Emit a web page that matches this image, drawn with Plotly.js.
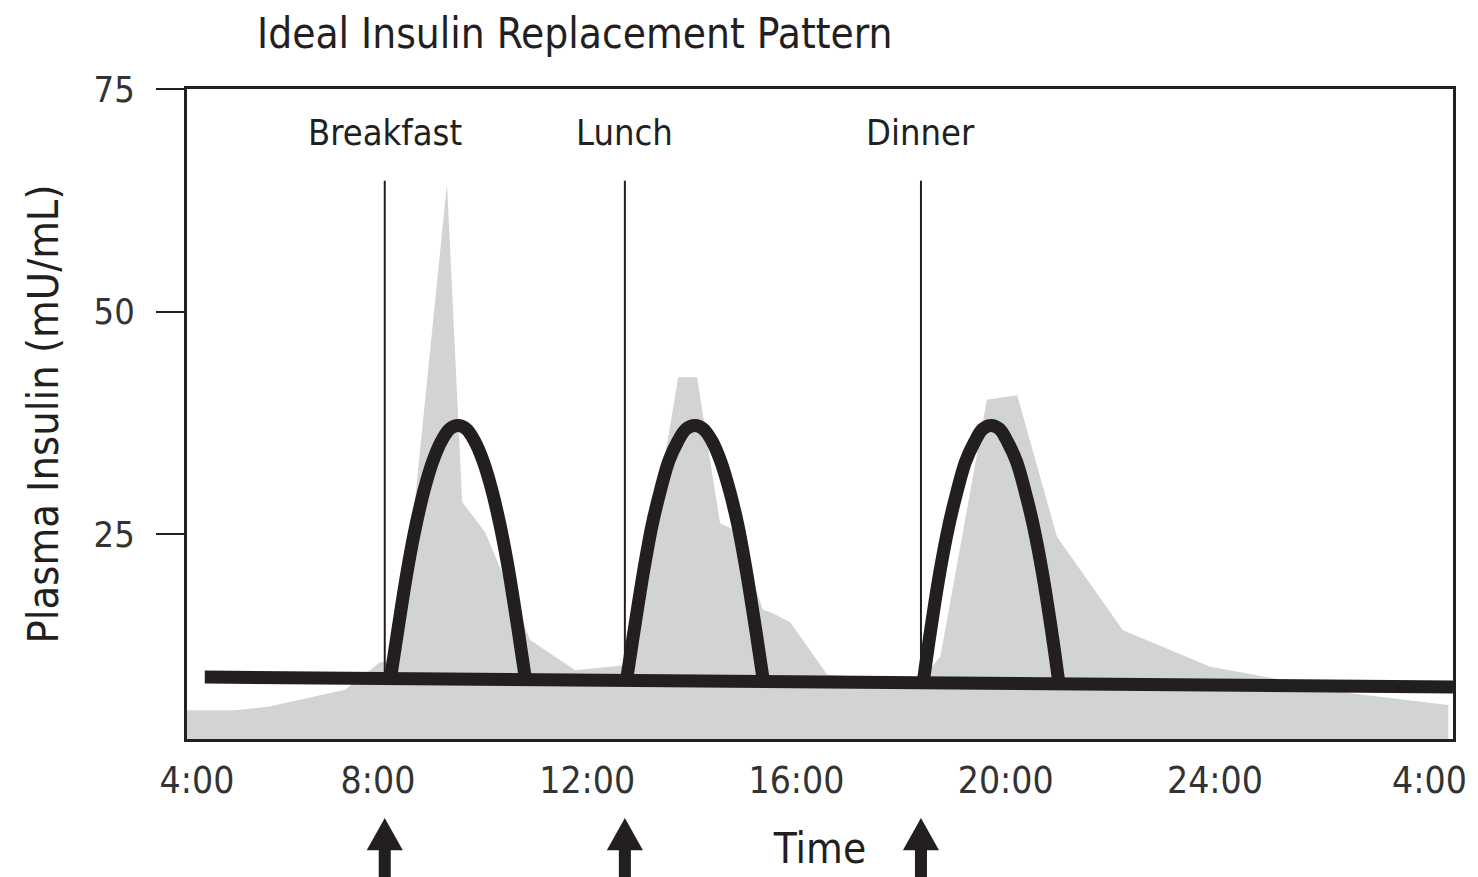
<!DOCTYPE html>
<html>
<head>
<meta charset="utf-8">
<script src="https://cdn.plot.ly/plotly-3.0.1.min.js"></script>
<style>html,body{margin:0;padding:0;background:#fff;}#chart{width:1478px;height:877px;}</style>
</head>
<body>
<div id="chart"></div>
<script>
// ---- Data (hours of day, 4:00 .. 28:00 = next day 4:00; plasma insulin mU/mL) ----
const mealNames = ["Breakfast", "Lunch", "Dinner"];
const mealTimes = [8.13, 12.72, 18.38];
const mealLineTop = 64.7;
const mealLineBottom = 8.8;

// Physiological (gray area) insulin profile
const physX = [4.35, 5.27, 5.90, 7.37, 8.04, 8.40, 9.32, 9.61, 10.05, 10.91, 11.77, 12.72, 12.82, 13.74, 14.10, 14.54, 14.83, 15.36, 15.55, 15.88, 16.59, 18.38, 18.75, 19.64, 20.22, 20.98, 22.24, 23.91, 25.11, 26.59, 28.46];
const physY = [5.2, 5.2, 5.6, 7.5, 10.6, 10.8, 64.4, 28.6, 25.2, 13.1, 9.7, 10.3, 10.3, 42.6, 42.6, 26.2, 25.4, 16.5, 16.1, 15.1, 9.2, 8.6, 11.2, 40.1, 40.6, 24.7, 14.2, 10.1, 8.8, 7.1, 5.8];

// Basal insulin line
const basalX = [4.69, 28.55];
const basalY = [8.93, 7.81];

// Bolus insulin arcs
const breakfastArcX = [8.24, 8.38, 8.57, 8.73, 8.89, 9.05, 9.21, 9.37, 9.53, 9.69, 9.85, 10.01, 10.17, 10.33, 10.49, 10.68, 10.82];
const breakfastArcY = [8.8, 14.2, 21.2, 26.1, 30.1, 33.2, 35.4, 36.8, 37.2, 36.8, 35.4, 33.2, 30.1, 26.1, 21.2, 14.2, 8.7];
const lunchArcX = [12.75, 12.89, 13.08, 13.24, 13.40, 13.56, 13.73, 13.89, 14.06, 14.22, 14.39, 14.55, 14.72, 14.88, 15.04, 15.23, 15.37];
const lunchArcY = [8.5, 13.9, 20.9, 26.0, 29.9, 33.2, 35.4, 36.8, 37.2, 36.8, 35.4, 33.2, 29.9, 26.0, 20.9, 13.9, 8.4];
const dinnerArcX = [18.42, 18.55, 18.74, 18.91, 19.07, 19.23, 19.40, 19.56, 19.72, 19.88, 20.04, 20.21, 20.37, 20.53, 20.70, 20.89, 21.02];
const dinnerArcY = [8.2, 13.6, 20.7, 25.9, 29.8, 33.1, 35.3, 36.8, 37.2, 36.8, 35.3, 33.1, 29.8, 25.9, 20.7, 13.6, 8.1];

// Axis ticks
const xTickVals = [4.54, 8, 12, 16, 20, 24, 28.1];
const xTickText = ["4:00", "8:00", "12:00", "16:00", "20:00", "24:00", "4:00"];
const yTickVals = [25, 50, 75];

// ---- Styles ----
const ink = "#231f20";
const grayFill = "#d1d3d4";
const FONT = '"Liberation Sans Narrow", "Arial Narrow", "DejaVu Sans Condensed", "Liberation Sans", sans-serif';

const traces = [];
traces.push({
  x: physX, y: physY, type: "scatter", mode: "lines",
  fill: "tozeroy", fillcolor: grayFill, line: {width: 0, color: grayFill},
  hoverinfo: "skip"
});
mealTimes.forEach(t => {
  traces.push({
    x: [t, t], y: [mealLineBottom, mealLineTop], type: "scatter", mode: "lines",
    line: {color: ink, width: 2}, hoverinfo: "skip"
  });
});
[[breakfastArcX, breakfastArcY], [lunchArcX, lunchArcY], [dinnerArcX, dinnerArcY]].forEach(([ax, ay]) => {
  traces.push({
    x: ax, y: ay, type: "scatter", mode: "lines",
    line: {color: ink, width: 13, shape: "spline", smoothing: 1.0}, hoverinfo: "skip"
  });
});
traces.push({
  x: basalX, y: basalY, type: "scatter", mode: "lines",
  line: {color: ink, width: 13}, hoverinfo: "skip"
});

const annotations = mealNames.map((name, i) => ({
  x: mealTimes[i], y: 70.1, xref: "x", yref: "y",
  text: name, showarrow: false, xanchor: "center", yanchor: "middle",
  font: {family: FONT, size: 36, color: ink}
}));

// Up arrows beneath meal times
const tipY = -0.1215, headY = -0.171, baseY = -0.26, headHalf = 0.345, shaftHalf = 0.115;
const shapes = mealTimes.map(t => ({
  type: "path", xref: "x", yref: "paper",
  path: `M ${t},${tipY} L ${t + headHalf},${headY} L ${t + shaftHalf},${headY} L ${t + shaftHalf},${baseY} L ${t - shaftHalf},${baseY} L ${t - shaftHalf},${headY} L ${t - headHalf},${headY} Z`,
  fillcolor: ink, line: {width: 0}
}));

const layout = {
  width: 1478, height: 877,
  margin: {l: 187, r: 25, t: 89, b: 138, pad: 0},
  paper_bgcolor: "#ffffff", plot_bgcolor: "#ffffff",
  showlegend: false, hovermode: false,
  title: {
    text: "Ideal Insulin Replacement Pattern",
    x: 0.0553, xref: "paper", xanchor: "left",
    y: 0.962, yref: "container", yanchor: "middle",
    font: {family: FONT, size: 42, color: ink}
  },
  xaxis: {
    range: [4.35, 28.55], showgrid: false, zeroline: false,
    showline: true, mirror: true, linecolor: ink, linewidth: 3,
    ticks: "", tickvals: xTickVals, ticktext: xTickText,
    ticklabelstandoff: 7,
    tickfont: {family: FONT, size: 37, color: "#333333"},
    title: {text: "Time", standoff: 33, font: {family: FONT, size: 42, color: ink}}
  },
  yaxis: {
    range: [1.97, 75], showgrid: false, zeroline: false,
    showline: true, mirror: true, linecolor: ink, linewidth: 3,
    ticks: "outside", ticklen: 28, tickwidth: 2, tickcolor: ink,
    tickvals: yTickVals, ticklabelstandoff: 14,
    tickfont: {family: FONT, size: 36, color: "#333333"},
    title: {text: "Plasma Insulin (mU/mL)", standoff: 22, font: {family: FONT, size: 43, color: ink}}
  },
  annotations: annotations,
  shapes: shapes
};

Plotly.newPlot("chart", traces, layout, {displayModeBar: false, staticPlot: true});
</script>
</body>
</html>
